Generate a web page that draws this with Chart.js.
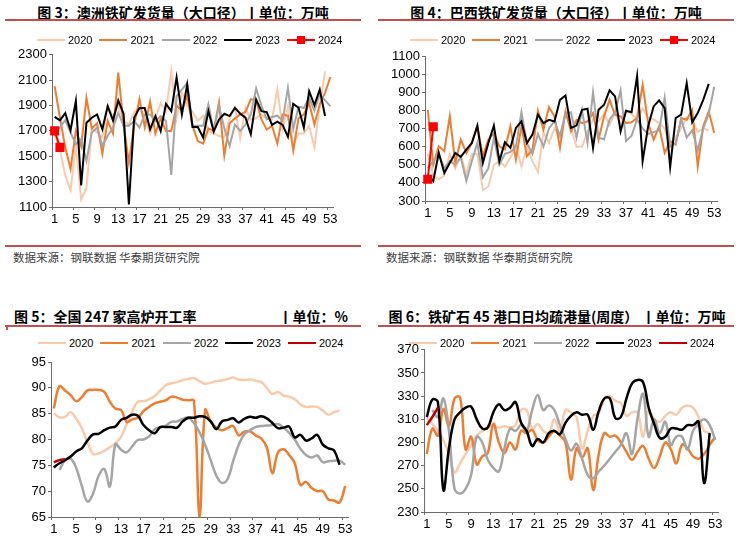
<!DOCTYPE html>
<html>
<head>
<meta charset="utf-8">
<script src="https://cdn.jsdelivr.net/npm/chart.js@4.4.1/dist/chart.umd.min.js"></script>
<style>
  body { margin: 0; background: #fff; font-family: "Noto Sans CJK SC", "Liberation Sans", sans-serif; }
  #page { position: relative; width: 748px; height: 537px; overflow: hidden; background: #fff; }
  .title { position: absolute; font-weight: bold; font-size: 14px; line-height: 16px; color: #000; white-space: nowrap; }
  .rule { position: absolute; height: 2px; background: #c0504d; }
  .src { position: absolute; font-size: 11.5px; line-height: 14px; color: #404040; white-space: nowrap; }
  .legend { position: absolute; display: flex; align-items: center; height: 12px; z-index: 2;
            font: 11px "Liberation Sans", Arial, sans-serif; color: #000; white-space: nowrap; }
  .legend .item { display: flex; align-items: center; margin-right: 7px; }
  .legend .ln { position: relative; width: 28px; height: 2.5px; margin-right: 3px; }
  .legend .mk { position: absolute; left: 10px; top: -3px; width: 8px; height: 8px; }
  .box { position: absolute; }
</style>
</head>
<body>
<div id="page">
  <div class="title" style="left:5px;top:4px;width:356px;text-align:center">图 3：澳洲铁矿发货量（大口径）丨单位：万吨</div>
  <div class="rule" style="left:5px;top:19px;width:356px"></div>
  <div class="legend" id="leg1" style="left:37px;top:34px"></div>
  <div class="box" style="left:0;top:45px;width:374px;height:190px"><canvas id="c1"></canvas></div>
  <div class="rule" style="left:5px;top:245px;width:356px"></div>
  <div class="src" style="left:13px;top:250px">数据来源：钢联数据 华泰期货研究院</div>

  <div class="title" style="left:378px;top:4px;width:356px;text-align:center">图 4：巴西铁矿发货量（大口径）丨单位：万吨</div>
  <div class="rule" style="left:378px;top:19px;width:356px"></div>
  <div class="legend" id="leg2" style="left:410px;top:34px"></div>
  <div class="box" style="left:374px;top:45px;width:374px;height:190px"><canvas id="c2"></canvas></div>
  <div class="rule" style="left:378px;top:245px;width:356px"></div>
  <div class="src" style="left:386px;top:250px">数据来源：钢联数据 华泰期货研究院</div>

  <div class="title" style="left:14px;top:308px">图 5：全国 247 家高炉开工率</div>
  <div class="title" style="left:0;top:308px;width:348px;text-align:right">丨单位：%</div>
  <div class="rule" style="left:5px;top:325px;width:356px"></div>
  <div style="position:absolute;left:6px;top:327px;width:2px;height:3px;background:#c0504d"></div>
  <div class="legend" id="leg3" style="left:38px;top:337px"></div>
  <div class="box" style="left:0;top:350px;width:374px;height:187px"><canvas id="c3"></canvas></div>

  <div class="title" style="left:379px;top:308px;width:356px;text-align:center">图 6：铁矿石 45 港口日均疏港量(周度） 丨单位：万吨</div>
  <div class="rule" style="left:378px;top:325px;width:356px"></div>
  <div class="legend" id="leg4" style="left:409px;top:337px"></div>
  <div class="box" style="left:374px;top:340px;width:374px;height:197px"><canvas id="c4"></canvas></div>
</div>

<script>
// week numbers on the x axis
const weeks = Array.from({ length: 53 }, (_, i) => String(i + 1));
const years = ["2020", "2021", "2022", "2023", "2024"];

// 图3 澳洲铁矿发货量
const aus2020 = [1680,1550,1350,1230,1590,1160,1250,1720,1690,1650,1900,1810,1900,1780,1750,1850,1880,1800,1680,1800,1920,1850,2170,1800,2000,1900,1850,1780,1820,1700,1680,1660,1650,1800,1880,1640,1880,1790,1800,1830,1800,1790,2030,1720,1890,1580,1680,1680,1740,1570,1900,2170];
const aus2021 = [2052,1804,1570,1400,1700,1580,1960,1720,1760,1520,1780,1680,2160,1750,1450,1750,1950,1730,1930,1680,1800,1700,1700,1900,1860,1980,1740,1620,1600,1720,1700,1925,1505,1760,1800,1830,1850,1950,1940,1790,1710,1740,1600,1830,1820,1545,1800,1830,1920,1750,1910,2000,2125];
const aus2022 = [1700,1726,1786,1687,1595,1635,1465,1687,1726,1582,1660,1726,1843,1740,1740,1778,1726,1830,1830,1778,1817,1778,1353,1974,2026,2078,1740,1740,1740,1910,1700,1900,1720,1582,1750,1700,1750,1830,2034,1900,1790,1810,1820,1780,2039,1713,1890,1880,1960,1860,1990,1940,1895];
const aus2023 = [1810,1783,1840,1705,1935,1270,1765,1804,1830,1713,1895,1783,1940,1835,1120,1805,1880,1880,1713,1817,1700,1913,1856,2122,1830,2065,1731,1731,1648,1856,1695,1790,1835,1817,1882,1835,1805,1674,1948,1856,1848,1747,1773,1747,1653,1913,1882,1726,2013,1903,2026,1817];
const aus2024 = [1700,1570];

// 图4 巴西铁矿发货量
const bra2020 = [560,440,420,440,560,480,550,450,560,560,360,380,500,520,490,540,600,490,600,520,460,680,620,700,650,790,700,600,600,680,750,740,780,720,790,720,800,780,750,810,760,750,730,700,600,650,700,760,750,680,700,690];
const bra2021 = [803,501,602,575,767,510,639,565,620,712,547,639,675,602,584,712,529,712,547,584,798,694,818,767,593,794,684,748,730,739,785,639,767,858,776,767,730,734,758,941,730,639,712,565,630,611,758,748,803,492,712,794,675];
const bra2022 = [480,520,560,480,520,500,540,410,520,620,430,480,650,500,560,570,600,790,620,560,670,600,700,740,660,780,790,650,800,620,900,650,640,750,790,910,630,660,750,700,670,680,690,870,600,620,750,650,690,580,700,780,930];
const bra2023 = [446,410,565,455,510,565,543,583,620,716,510,620,716,520,624,593,703,739,620,666,776,730,748,739,858,882,703,716,803,809,593,803,831,910,877,684,798,790,990,520,712,822,855,812,488,758,776,950,734,785,858,946];
const bra2024 = [420,710];

// 图5 全国247家高炉开工率
const bf2020 = [85.1,84.3,84.4,85.3,84,82.2,79.5,77.2,77.3,77.8,78.5,79.3,80.5,83,85.5,87.3,87.4,87.8,88.4,89.5,90.5,90.9,91.1,91.5,91.7,91.9,91.3,90.8,91,91.3,91.4,91.7,92,91.6,91.5,91.6,91.4,91.1,90,88.8,89.2,88.5,88.3,87.8,86.8,86.3,86.4,86.3,85.6,84.8,85.3,85.6];
const bf2021 = [86,90.3,89.5,88.6,87.4,88.2,89.5,89.6,89.6,89.2,87.3,86,85.7,83.4,83.9,84.2,85.5,86.3,87,87.3,87.6,88.3,88.1,87.7,87.6,87.5,65,85.7,83.5,82.3,81.8,82.2,82.6,80.8,81.5,81.6,80.8,80.2,78.5,73.5,77.5,78.1,77,75.4,71.2,71.8,70.6,70,70,68.4,68.2,67.8,71];
const bf2022 = [null,74.1,76,76.3,74.5,71,68,69.5,73,74.3,70.9,79.1,78,77.5,78.7,79.9,80,80.6,82,82.4,82.7,83.4,83.5,84,84.2,83.2,81.4,79,76,73,71.6,72.3,75.8,79,81,81.8,82.4,82.6,82.7,82.8,83,82.3,81.3,80,78.2,77,76.5,76.9,75.6,75.8,75.9,75.9,75.1];
const bf2023 = [74.6,75.4,76,76.7,77.7,78.3,79.8,81,81.1,81.8,82.3,82.5,83.8,84.2,84.8,84.6,82.8,81.8,81.2,82.4,82.4,82.4,82.3,83.5,84.2,84.2,84.5,84.4,83.5,82,83.5,83.8,84.1,83.3,84,84.4,84.2,84.5,84.1,83.2,82.2,82.3,82.5,80.4,80.9,79.8,80.2,80.9,79,78.3,77.9,75.1];
const bf2024 = [75.6,76,76.2];

// 图6 铁矿石45港口日均疏港量
const port2020 = [312,306,300,292,280,264,272,280,288,296,300,303,304,303,304,303,305,318,318,302,306,300,298,310,300,318,316,312,285,300,313,315,328,330,326,324,313,316,316,295,318,310,308,313,316,314,320,322,320,312,300,298];
const port2021 = [280,302,296,319,304,328,329,284,295,271,278,281,306,290,281,290,284,300,298,301,292,290,295,300,296,290,258,285,277,285,249,280,298,295,296,290,282,275,282,287,276,268,278,290,284,272,288,285,278,276,280,288,295];
const port2022 = [null,318,312,328,300,250,246,250,262,295,290,275,268,265,285,302,300,305,300,318,331,318,322,318,305,293,283,289,276,262,259,265,270,276,282,288,298,280,311,332,295,310,298,308,288,295,295,284,300,306,310,305,292];
const port2023 = [312,327,325,249,285,310,316,320,321,310,302,303,316,323,318,320,325,307,300,287,293,290,298,300,297,307,313,316,314,314,301,317,328,328,311,312,328,341,344,342,320,306,294,295,302,302,301,305,305,308,255,298];
const port2024 = [305,312,320];

const topColors = ["#f8cbad", "#ed7d31", "#a5a5a5", "#000000", "#ff0000"];
const bottomColors = ["#f8cbad", "#ed7d31", "#a5a5a5", "#000000", "#c00000"];
const axisColor = "#6b6b6b";
const tickFont = { family: "Liberation Sans", size: 13 };

function buildLegend(id, colors, marker) {
  const el = document.getElementById(id);
  years.forEach((y, i) => {
    const item = document.createElement("div");
    item.className = "item";
    const ln = document.createElement("span");
    ln.className = "ln";
    ln.style.background = colors[i];
    if (marker && i === 4) {
      const mk = document.createElement("span");
      mk.className = "mk";
      mk.style.background = colors[i];
      ln.appendChild(mk);
    }
    const txt = document.createElement("span");
    txt.textContent = y;
    item.appendChild(ln);
    item.appendChild(txt);
    el.appendChild(item);
  });
}

function drawChart(canvasId, cfg) {
  const datasets = cfg.series.map((s, i) => ({
    label: years[i],
    data: s,
    borderColor: cfg.colors[i],
    backgroundColor: cfg.colors[i],
    borderWidth: cfg.lineWidth,
    pointRadius: cfg.markers && i === 4 ? 5 : 0,
    pointStyle: "rect",
    tension: cfg.smooth ? 0.4 : 0,
    order: 4 - i,
  }));

  new Chart(document.getElementById(canvasId), {
    type: "line",
    data: { labels: weeks, datasets },
    options: {
      responsive: true,
      maintainAspectRatio: false,
      animation: false,
      layout: { padding: cfg.padding },
      plugins: { legend: { display: false }, tooltip: { enabled: false } },
      scales: {
        x: {
          offset: true,
          grid: {
            offset: true,
            drawOnChartArea: false,
            tickLength: 3,
            color: (c) => (c.index % 4 === 0 ? axisColor : "rgba(0,0,0,0)"),
          },
          border: { color: axisColor, width: 1 },
          ticks: {
            autoSkip: false,
            maxRotation: 0,
            padding: 2,
            color: "#000",
            font: tickFont,
            callback: (v, i) => (i % 4 === 0 ? weeks[i] : ""),
          },
          afterFit: (s) => { s.height = cfg.xh; },
        },
        y: {
          min: cfg.min,
          max: cfg.max,
          grid: { drawOnChartArea: false, tickLength: 3, color: axisColor },
          border: { color: axisColor, width: 1 },
          ticks: {
            stepSize: cfg.step,
            autoSkip: false,
            padding: 2,
            color: "#000",
            font: tickFont,
            callback: (v) => String(v),
          },
          afterFit: (s) => { s.width = cfg.yw; },
        },
      },
    },
  });
}

buildLegend("leg1", topColors, true);
buildLegend("leg2", topColors, true);
buildLegend("leg3", bottomColors, false);
buildLegend("leg4", bottomColors, false);

drawChart("c1", {
  series: [aus2020, aus2021, aus2022, aus2023, aus2024],
  colors: topColors, lineWidth: 2, markers: true, smooth: false,
  min: 1100, max: 2300, step: 200,
  yw: 52, xh: 20, padding: { left: 0, right: 41, top: 8, bottom: 8 },
});

drawChart("c2", {
  series: [bra2020, bra2021, bra2022, bra2023, bra2024],
  colors: topColors, lineWidth: 2, markers: true, smooth: false,
  min: 300, max: 1100, step: 100,
  yw: 51, xh: 20, padding: { left: 0, right: 31, top: 11, bottom: 14 },
});

drawChart("c3", {
  series: [bf2020, bf2021, bf2022, bf2023, bf2024],
  colors: bottomColors, lineWidth: 2.5, markers: false, smooth: true,
  min: 65, max: 95, step: 5,
  yw: 51, xh: 16, padding: { left: 0, right: 26, top: 12, bottom: 4 },
});

drawChart("c4", {
  series: [port2020, port2021, port2022, port2023, port2024],
  colors: bottomColors, lineWidth: 2.5, markers: false, smooth: true,
  min: 230, max: 370, step: 20,
  yw: 50, xh: 18, padding: { left: 0, right: 30, top: 9, bottom: 7 },
});
</script>
</body>
</html>
